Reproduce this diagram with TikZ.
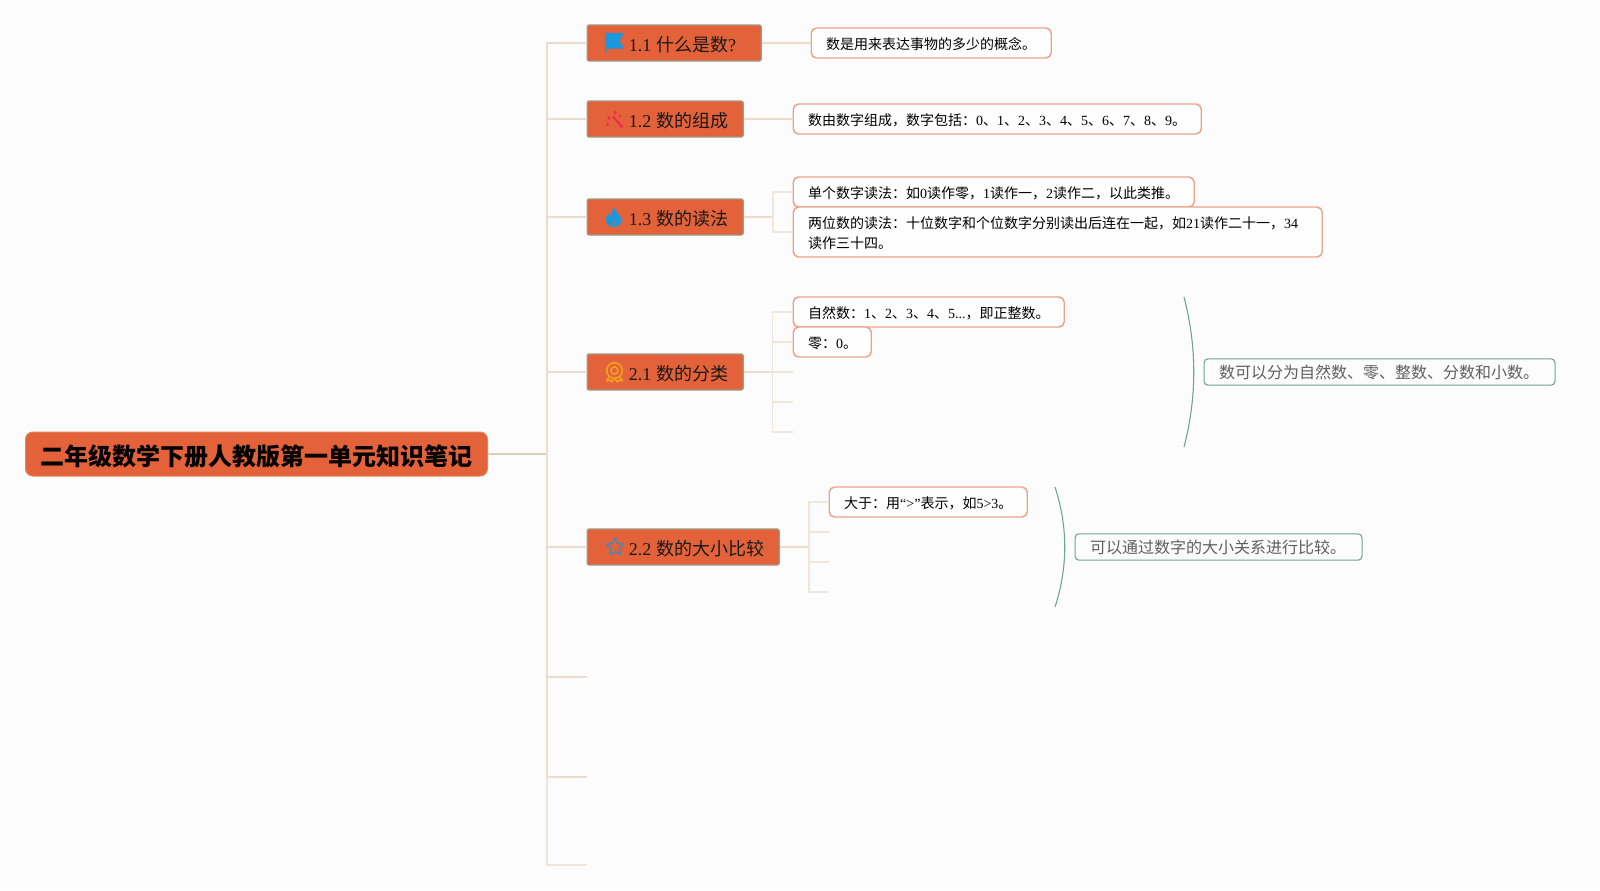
\documentclass[tikz,border=0pt]{standalone}
\usepackage{fontspec}
\setmainfont{Noto Sans CJK SC}
\newfontfamily\latf{Liberation Serif}
\newcommand{\ltn}[1]{{\latf #1}}
\newcommand{\gapsp}{\hspace{3.5pt}}
\definecolor{bgc}{HTML}{FCFCFC}
\definecolor{topfill}{HTML}{E4623A}
\definecolor{topedge}{HTML}{9C9A84}
\definecolor{detedge}{HTML}{E9A48E}
\definecolor{sumedge}{HTML}{6FA394}
\definecolor{sumtext}{HTML}{5F5F5F}
\definecolor{lineA}{HTML}{DFCFB8}
\definecolor{lineB}{HTML}{EBDCCB}
\definecolor{lineC}{HTML}{EFE7DC}
\definecolor{flagblue}{HTML}{1B97DE}
\definecolor{wandred}{HTML}{F0284F}
\definecolor{medalor}{HTML}{F5A21F}
\definecolor{starblue}{HTML}{4F86AE}
\tikzset{
  rootbox/.style={draw=topfill!70!lineA,line width=0.75pt,fill=topfill,rounded corners=5.5pt,anchor=west,
    minimum height=33pt,inner xsep=11.5pt,inner ysep=0pt,font=\fontsize{18}{22}\selectfont\bfseries,text=black,align=left,
    execute at begin node={\rule{0pt}{18.8pt}}},
  topbox/.style={draw=topedge,line width=1pt,fill=topfill,rounded corners=1.5pt,anchor=west,
    minimum height=27pt,inner ysep=0pt,inner xsep=0pt,font=\fontsize{13.5}{16}\selectfont,text=black!90,align=left,
    execute at begin node={\rule{0pt}{14.2pt}}},
  detbase/.style={draw=detedge,line width=1.1pt,fill=white!60!bgc,rounded corners=4pt,anchor=west,
    inner xsep=11.25pt,inner ysep=0pt,font=\fontsize{10.5}{15}\selectfont,text=black,align=left},
  detbox/.style={detbase,execute at begin node={\rule[-2pt]{0pt}{13.8pt}}},
  sumbox/.style={draw=sumedge,line width=0.8pt,fill=bgc,rounded corners=3pt,anchor=west,
    inner xsep=11.25pt,inner ysep=0pt,minimum height=19.8pt,font=\fontsize{12}{15}\selectfont,text=sumtext,align=left},
  conn/.style={line width=1.1pt,lineB},
  connfar/.style={line width=1.1pt,lineC},
  connroot/.style={line width=1.1pt,lineA},
  sumcurve/.style={line width=0.8pt,sumedge},
}
\begin{document}
\begin{tikzpicture}[x=0.75pt,y=-0.75pt]
\useasboundingbox (0,0) rectangle (1600,890);
\fill[bgc] (0,0) rectangle (1600,890);

% root
\node[rootbox,minimum width=346.5pt,text width=323.5pt] (root) at (25,454) {二年级数学下册人教版第一单元知识笔记};

% topics
\node[topbox,minimum width=130.5pt,text width=130.5pt] (t11) at (586.5,43) {\hspace*{31.3pt}\ltn{1.1}\gapsp 什么是数\ltn{?}};
\node[topbox,minimum width=117pt,text width=117pt] (t12) at (586.5,119) {\hspace*{31.3pt}\ltn{1.2}\gapsp 数的组成};
\node[topbox,minimum width=117pt,text width=117pt] (t13) at (586.5,217) {\hspace*{31.3pt}\ltn{1.3}\gapsp 数的读法};
\node[topbox,minimum width=117pt,text width=117pt] (t21) at (586.5,372) {\hspace*{31.3pt}\ltn{2.1}\gapsp 数的分类};
\node[topbox,minimum width=144pt,text width=144pt] (t22) at (586.5,547) {\hspace*{31.3pt}\ltn{2.2}\gapsp 数的大小比较};

% details
\node[detbox,minimum width=180pt,text width=157.5pt,minimum height=22.5pt] (d11) at (810.5,43) {数是用来表达事物的多少的概念。};
\node[detbox,minimum width=306pt,text width=283.5pt,minimum height=22.5pt] (d12) at (792.5,119) {数由数字组成，数字包括：\ltn{0}、\ltn{1}、\ltn{2}、\ltn{3}、\ltn{4}、\ltn{5}、\ltn{6}、\ltn{7}、\ltn{8}、\ltn{9}。};
\node[detbox,minimum width=300.75pt,text width=278.25pt,minimum height=22.5pt] (d13a) at (792.5,192) {单个数字读法：如\ltn{0}读作零，\ltn{1}读作一，\ltn{2}读作二，以此类推。};
\node[detbase,execute at begin node={\rule{0pt}{11.2pt}},minimum width=396.75pt,text width=374.25pt,minimum height=37.5pt] (d13b) at (792.5,232) {两位数的读法：十位数字和个位数字分别读出后连在一起，如\ltn{21}读作二十一，\ltn{34}\\读作三十四。};
\node[detbox,minimum width=203.25pt,text width=180.75pt,minimum height=22.5pt] (d21a) at (792.5,312) {自然数：\ltn{1}、\ltn{2}、\ltn{3}、\ltn{4}、\ltn{5...}，即正整数。};
\node[detbox,minimum width=58.5pt,text width=36pt,minimum height=22.5pt] (d21b) at (792.5,342) {零：\ltn{0}。};
\node[detbox,minimum width=148.5pt,text width=126pt,minimum height=22.5pt] (d22a) at (828.5,502) {大于：用\ltn{“>”}表示，如\ltn{5>3}。};

% summaries
\node[sumbox,minimum width=263.25pt,text width=240.75pt] (s21) at (1203.5,372) {数可以分为自然数、零、整数、分数和小数。};
\node[sumbox,minimum width=215.25pt,text width=192.75pt] (s22) at (1074.5,547) {可以通过数字的大小关系进行比较。};

% free ends and junctions
\coordinate (trunk) at (547,454);
\coordinate (f1) at (587,677);
\coordinate (f2) at (587,777);
\coordinate (f3) at (587,865);
\coordinate (b13) at (773,217);
\coordinate (b21) at (772.5,372);
\coordinate (b22) at (809,547);
\coordinate (e21c) at (793,372);
\coordinate (e21d) at (793,402);
\coordinate (e21e) at (793,432);
\coordinate (e22b) at (829,532);
\coordinate (e22c) at (829,562);
\coordinate (e22d) at (829,592);
\coordinate (c21a) at (1184,297);
\coordinate (c21b) at (1184,447);
\coordinate (c22a) at (1055,487);
\coordinate (c22b) at (1055,607);

% connectors
\draw[connroot] (root.east) -- (trunk);
\draw[conn] (trunk) |- (t11.west);
\draw[conn] (trunk) |- (t12.west);
\draw[conn] (trunk) |- (t13.west);
\draw[conn] (trunk) |- (t21.west);
\draw[conn] (trunk) |- (t22.west);
\draw[conn] (trunk) |- (f1);
\draw[conn] (trunk) |- (f2);
\draw[connfar] (f2 -| trunk) |- (f3);

\draw[conn] (t11.east) -- (d11.west);
\draw[conn] (t12.east) -- (d12.west);
\draw[conn] (t13.east) -- (b13);
\draw[connfar] (b13) |- (d13a.west);
\draw[connfar] (b13) |- (d13b.west);
\draw[conn] (t21.east) -- (b21);
\draw[connfar] (b21) |- (d21a.west);
\draw[connfar] (b21) |- (d21b.west);
\draw[connfar] (b21) -- (e21c);
\draw[connfar] (b21) |- (e21d);
\draw[connfar] (b21) |- (e21e);
\draw[conn] (t22.east) -- (b22);
\draw[connfar] (b22) |- (d22a.west);
\draw[connfar] (b22) |- (e22b);
\draw[connfar] (b22) |- (e22c);
\draw[connfar] (b22) |- (e22d);

% summary curves
\draw[sumcurve] (c21a) .. controls (1197,347) and (1197,397) .. (c21b);
\draw[sumcurve] (c22a) .. controls (1068,527) and (1068,567) .. (c22b);

% icons
% flag
\fill[flagblue] (605,33) -- (624,33) -- (619.5,40.5) -- (624,48.5) -- (606.5,48.5) -- (606.5,53) -- (605,53) -- cycle;
% wand
\draw[wandred,line width=1.6pt] (613,116.5) -- (622.5,127.5);
\fill[wandred] (615,112.5) circle (1.7);
\fill[wandred] (609,118) circle (1.9);
\fill[wandred] (620,116) circle (1.3);
\fill[wandred] (607.5,124.5) circle (1.6);
% flame
\fill[flagblue] (614,207) .. controls (615,212) and (621,215) .. (621.5,220)
  .. controls (621.5,224) and (618,227) .. (614,227)
  .. controls (609.5,227) and (606,224) .. (606,220)
  .. controls (606,216.5) and (608,214.5) .. (609,213)
  .. controls (609.5,214.5) and (610,215.5) .. (611,216)
  .. controls (611.5,213) and (612,210) .. (614,207) -- cycle;
\fill[topfill!30!flagblue] (614,219) .. controls (616,222) and (617,223) .. (616.5,224.5)
  .. controls (616,226) and (612,226) .. (611.5,224.5)
  .. controls (611,223) and (612.5,221.5) .. (614,219) -- cycle;
% medal
\draw[medalor,line width=1.1pt] (614.5,370.5) circle (7.8);
\draw[medalor,line width=1.1pt] (614.5,370.5) circle (3.6);
\draw[medalor,line width=1.1pt,line join=round] (609,376.5) -- (606.5,381) -- (610,380) -- (612,382) -- (614,378.5);
\draw[medalor,line width=1.1pt,line join=round] (620,376.5) -- (622.5,381) -- (619,380) -- (617,382) -- (615,378.5);
% star
\draw[starblue,line width=1.2pt,line join=round] (615,538) -- (617.6,543.4) -- (623.6,544.2) -- (619.3,548.4) -- (620.3,554.3) -- (615,551.5) -- (609.7,554.3) -- (610.7,548.4) -- (606.4,544.2) -- (612.4,543.4) -- cycle;
\end{tikzpicture}
\end{document}
